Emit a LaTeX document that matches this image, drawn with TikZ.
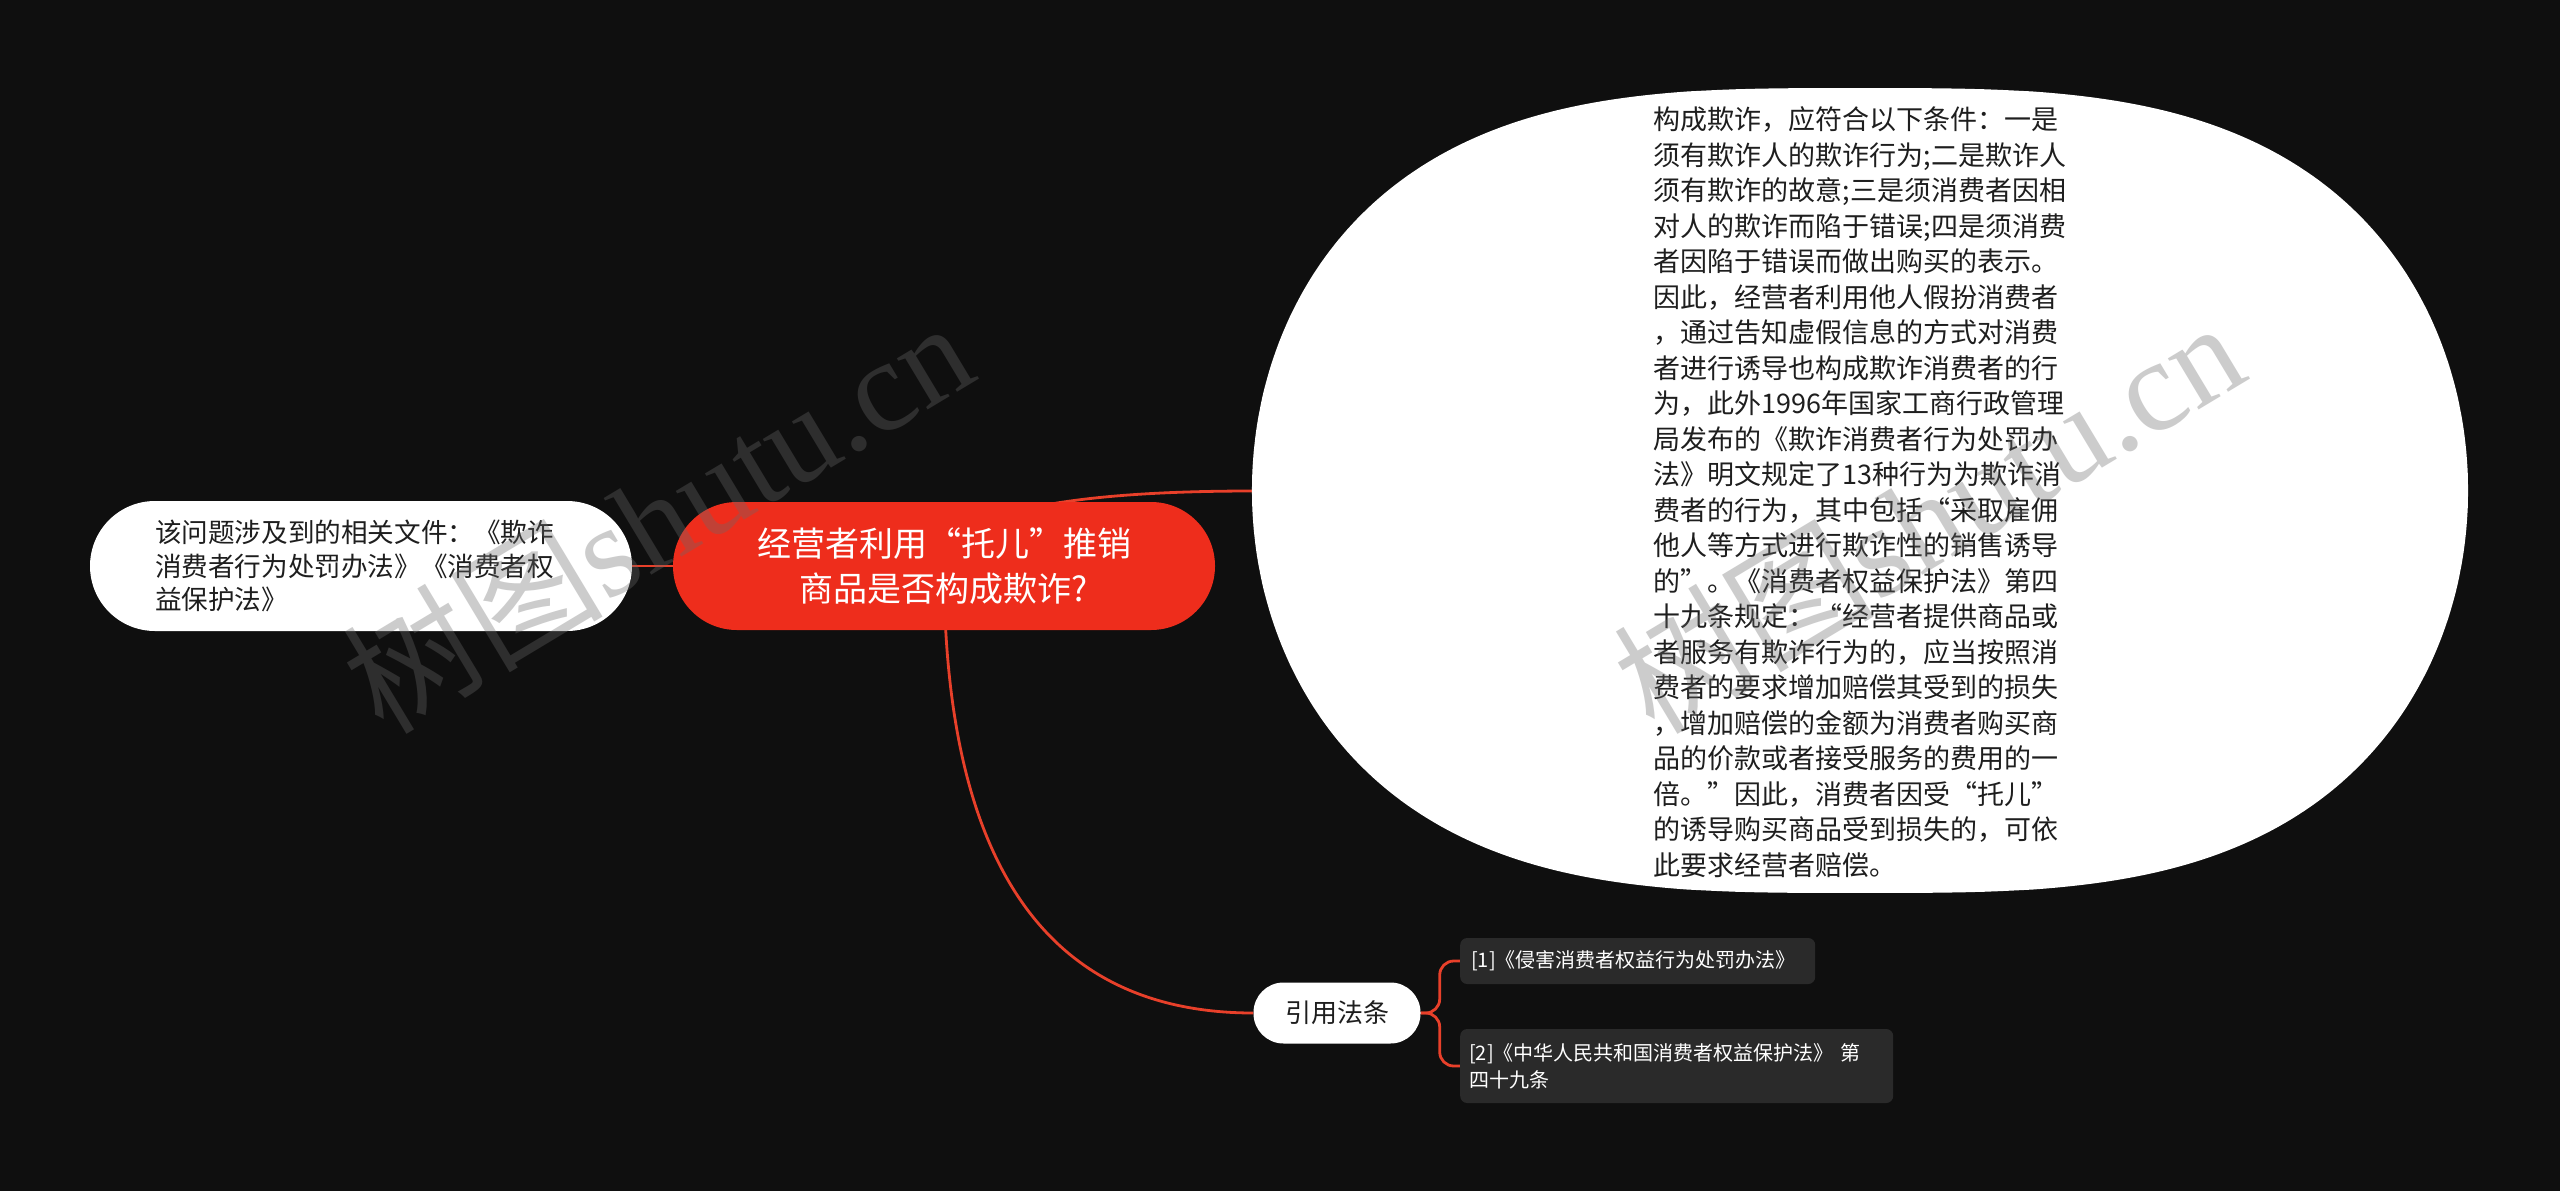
\documentclass[tikz,border=0pt]{standalone}
\usepackage{fontspec}
\setmainfont{Noto Sans CJK SC}
\newfontfamily\wmlatin{Liberation Serif}
\definecolor{bgc}{HTML}{0F0F0F}
\definecolor{rootred}{HTML}{EE2D1C}
\definecolor{linkred}{HTML}{E8402A}
\definecolor{leafgray}{HTML}{2A2A2A}
\definecolor{inkc}{HTML}{1E1E1E}
\definecolor{wmgray}{HTML}{6A6A6A}
\pgfdeclarelayer{bglayer}
\pgfsetlayers{bglayer,main}
\tikzset{
  rootbox/.style={fill=rootred, rounded corners=64pt, minimum width=542pt, minimum height=128pt,
    text=white, align=center, font=\fontsize{34}{45}\selectfont, inner sep=0pt},
  whitebox/.style={fill=white, text=inkc, inner sep=0pt},
  leafbox/.style={fill=leafgray, rounded corners=7pt, text=white, align=left,
    font=\fontsize{20}{27}\selectfont, inner xsep=11pt, inner ysep=0pt, anchor=west},
  link/.style={draw=linkred, line width=2.8pt},
  watermark/.style={text=wmgray, opacity=0.34, rotate=31, inner sep=0pt,
    font=\fontsize{130}{130}\selectfont}
}
\begin{document}
\begin{tikzpicture}[x=1pt,y=-1pt]
\useasboundingbox (0,0) rectangle (2560,1191);
\begin{pgfonlayer}{bglayer}
  \fill[bgc] (0,0) rectangle (2560,1191);
\end{pgfonlayer}

% detail bubble (flattened ellipse)
\fill[white] plot[domain=0.5:359.5, samples=360, variable=\t]
  ({1860+608*sign(cos(\t))*pow(abs(cos(\t)),0.625)},
   {490.5+402.5*sin(\t)}) -- cycle;
\coordinate (detailW) at (1253,491);

\node[rootbox] (root) at (944,566) {经营者利用“托儿”推销\\商品是否构成欺诈?};

\node[whitebox, rounded corners=65pt, minimum width=542pt, minimum height=130pt,
  text width=412pt, align=left, font=\fontsize{26.6}{33.3}\selectfont] (docs) at (361,566)
  {该问题涉及到的相关文件：《欺诈\\消费者行为处罚办法》《消费者权\\益保护法》};

\node[align=left, text=inkc, inner sep=0pt, font=\fontsize{27}{35.5}\selectfont] (detail) at (1860,492)
  {构成欺诈，应符合以下条件：一是\\
   须有欺诈人的欺诈行为;二是欺诈人\\
   须有欺诈的故意;三是须消费者因相\\
   对人的欺诈而陷于错误;四是须消费\\
   者因陷于错误而做出购买的表示。\\
   因此，经营者利用他人假扮消费者\\
   ，通过告知虚假信息的方式对消费\\
   者进行诱导也构成欺诈消费者的行\\
   为，此外1996年国家工商行政管理\\
   局发布的《欺诈消费者行为处罚办\\
   法》明文规定了13种行为为欺诈消\\
   费者的行为，其中包括“采取雇佣\\
   他人等方式进行欺诈性的销售诱导\\
   的”。《消费者权益保护法》第四\\
   十九条规定：“经营者提供商品或\\
   者服务有欺诈行为的，应当按照消\\
   费者的要求增加赔偿其受到的损失\\
   ，增加赔偿的金额为消费者购买商\\
   品的价款或者接受服务的费用的一\\
   倍。”因此，消费者因受“托儿”\\
   的诱导购买商品受到损失的，可依\\
   此要求经营者赔偿。};

\node[whitebox, rounded corners=30pt, minimum width=167pt, minimum height=61pt,
  font=\fontsize{26}{30}\selectfont] (cite) at (1337,1013) {引用法条};

\node[leafbox, text width=333pt, minimum height=46pt] (law1) at (1460,961)
  {[1]《侵害消费者权益行为处罚办法》};
\node[leafbox, text width=415pt, inner xsep=9pt, minimum height=74pt] (law2) at (1460,1066)
  {[2]《中华人民共和国消费者权益保护法》 第\\四十九条};

\begin{pgfonlayer}{bglayer}
  \draw[link] (root.center) -- (docs.east);
  \draw[link] (root.center) .. controls (944,517) and (1047,491) .. (detailW);
  \draw[link] (root.center) .. controls (944,864) and (1047,1013) .. (cite.west);
  \draw[link, rounded corners=14pt] (cite.east) -- ++(19,0) |- (law1.west);
  \draw[link, rounded corners=14pt] (cite.east) -- ++(19,0) |- (law2.west);
\end{pgfonlayer}

\node[watermark] (wm1) at (657,515) {树图{\wmlatin shutu.cn}};
\node[watermark] (wm2) at (1928,515) {树图{\wmlatin shutu.cn}};
\end{tikzpicture}
\end{document}
